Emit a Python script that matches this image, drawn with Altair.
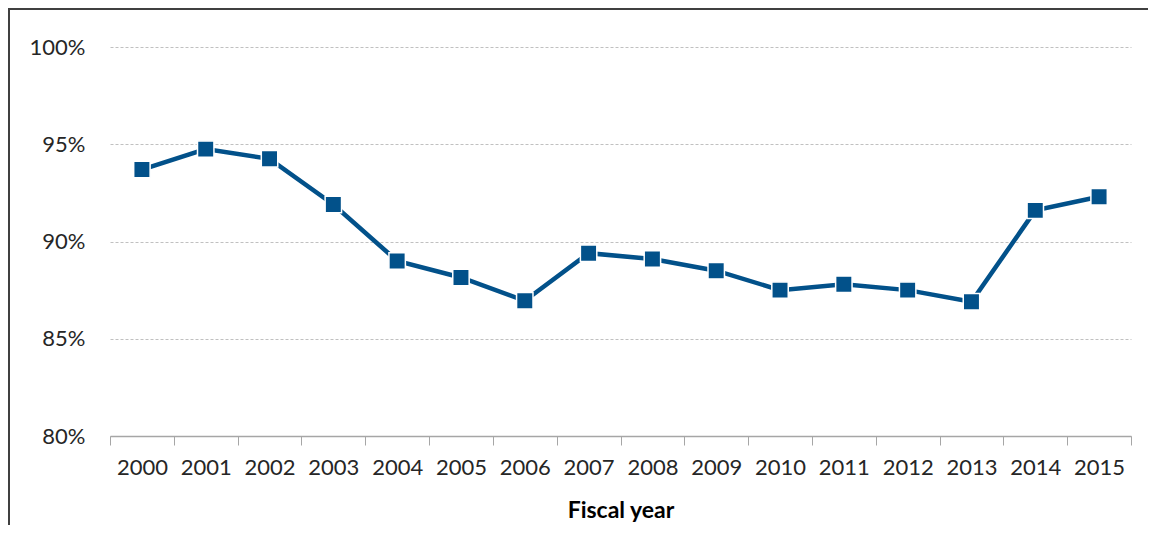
import altair as alt
import pandas as pd

years = [str(y) for y in range(2000, 2016)]
values = [93.7, 94.75, 94.25, 91.9, 89.0, 88.15, 86.95, 89.4, 89.1, 88.5,
          87.5, 87.8, 87.5, 86.9, 91.6, 92.3]
y_ticks = [80, 85, 90, 95, 100]

df = pd.DataFrame({"year": years, "value": values})

W, H = 1021, 389
PAD_L, PAD_T = 102, 39
PAD_R = 1140 - PAD_L - W
PAD_B = 517 - PAD_T - H

COLOR = "#02518A"
FONT = "Lato"

x_enc = alt.X(
    "year:N",
    bandPosition=0.5,
    scale=alt.Scale(type="band", paddingInner=0, paddingOuter=0),
    axis=alt.Axis(
        title="Fiscal year",
        titleFont=FONT, titleFontSize=23, titleFontWeight="bold", titleColor="#000000",
        titlePadding=21,
        labelFont=FONT, labelFontSize=22, labelColor="#262626", labelAngle=0,
        labelPadding=12,
        tickBand="extent", tickSize=9, tickColor="#A6A6A6", tickWidth=1,
        domainColor="#A6A6A6", domainWidth=1.5, grid=False,
    ),
)
y_enc = alt.Y(
    "value:Q",
    scale=alt.Scale(domain=[80, 100], nice=False, zero=False),
    axis=alt.Axis(
        title=None, values=y_ticks,
        labelExpr="datum.value + '%'",
        labelFont=FONT, labelFontSize=22, labelColor="#262626",
        labelPadding=25, ticks=False, domain=False,
        grid=True, gridColor="#C0C0C0", gridDash=[3, 2], gridWidth=1,
    ),
)

line = alt.Chart(df).mark_line(color=COLOR, strokeWidth=4.5).encode(x=x_enc, y=y_enc)
pts = alt.Chart(df).mark_point(
    shape="square", filled=True, size=270, color=COLOR, opacity=1,
    stroke="white", strokeWidth=1.5,
).encode(x=x_enc, y=y_enc)

frame_top = alt.Chart(df).mark_rule(color="#404040", strokeWidth=2).encode(
    x=alt.value(-PAD_L), x2=alt.value(W + PAD_R), y=alt.value(-PAD_T + 1)
)
frame_left = alt.Chart(df).mark_rule(color="#404040", strokeWidth=2).encode(
    x=alt.value(-PAD_L + 1), y=alt.value(-PAD_T), y2=alt.value(H + PAD_B)
)

chart = alt.layer(line, pts, frame_top, frame_left).properties(
    width=W, height=H,
    background="white",
    autosize=alt.AutoSizeParams(type="none"),
    padding={"left": PAD_L, "top": PAD_T, "right": PAD_R, "bottom": PAD_B},
).configure_view(stroke=None, strokeWidth=0)

chart.save("out.html", embed_options={"renderer": "svg", "actions": False})
